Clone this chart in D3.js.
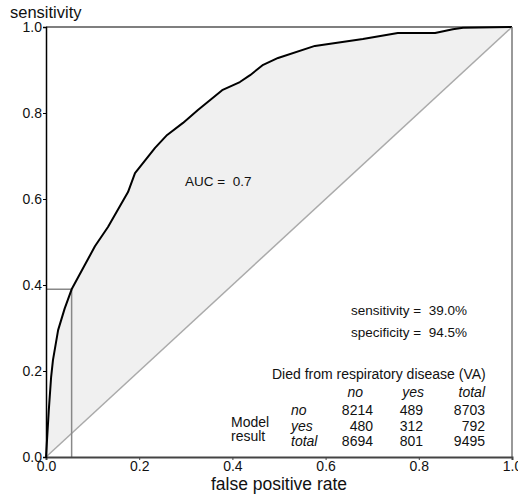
<!DOCTYPE html>
<html>
<head>
<meta charset="utf-8">
<script src="https://cdn.jsdelivr.net/npm/d3@7"></script>
<style>
  body { margin: 0; background: #fff; }
  svg text { font-family: "Liberation Sans", Arial, sans-serif; fill: #111; white-space: pre; }
</style>
</head>
<body>
<svg id="chart" width="518" height="497"></svg>
<script>
// ROC curve points
const fpr = [0, 0.006, 0.011, 0.015, 0.026, 0.040, 0.055, 0.08, 0.105, 0.133, 0.176, 0.191,
  0.234, 0.26, 0.294, 0.326, 0.378, 0.416, 0.438, 0.466, 0.498, 0.577, 0.68, 0.755, 0.835,
  0.873, 0.895, 1];
const sens = [0, 0.109, 0.186, 0.226, 0.295, 0.345, 0.39, 0.44, 0.49, 0.535, 0.616, 0.66,
  0.719, 0.749, 0.777, 0.807, 0.853, 0.872, 0.888, 0.912, 0.928, 0.956, 0.972, 0.986, 0.986,
  0.995, 0.998, 1];
const ticks = [0, 0.2, 0.4, 0.6, 0.8, 1.0];
const cutoff = { fpr: 0.055, sens: 0.39 };
const auc = 0.7;

// 2x2 table
const colHeads = ["no", "yes", "total"];
const rowHeads = ["no", "yes", "total"];
const tableVals = [[8214, 489, 8703], [480, 312, 792], [8694, 801, 9495]];

const svg = d3.select("#chart");
const margin = { left: 46, right: 6, top: 27, bottom: 40 };
const W = 518, H = 497;

const x = d3.scaleLinear().domain([0, 1]).range([margin.left, W - margin.right]);
const y = d3.scaleLinear().domain([0, 1]).range([H - margin.bottom, margin.top]);

const pts = fpr.map((f, i) => [f, sens[i]]);
const line = d3.line().x(d => x(d[0])).y(d => y(d[1]));

// shaded area between curve and diagonal
svg.append("path")
  .datum(pts.concat(pts.slice().reverse().map(d => [d[0], d[0]])))
  .attr("d", line)
  .attr("fill", "#f0f0f0")
  .attr("stroke", "none");

// diagonal
svg.append("line")
  .attr("x1", x(0)).attr("y1", y(0)).attr("x2", x(1)).attr("y2", y(1))
  .attr("stroke", "#aaa").attr("stroke-width", 1.5);

// cutoff lines
svg.append("path")
  .attr("d", `M${x(0)},${y(cutoff.sens)}H${x(cutoff.fpr)}V${y(0)}`)
  .attr("fill", "none").attr("stroke", "#888").attr("stroke-width", 1.5);

// ROC curve
svg.append("path")
  .datum(pts)
  .attr("d", line)
  .attr("fill", "none").attr("stroke", "#000").attr("stroke-width", 2)
  .attr("stroke-linejoin", "round");

// frame: top black, right gray
svg.append("line").attr("x1", x(0)).attr("x2", x(1)).attr("y1", y(1)).attr("y2", y(1))
  .attr("stroke", "#000").attr("stroke-width", 1.2);
svg.append("line").attr("x1", x(1)).attr("x2", x(1)).attr("y1", y(1)).attr("y2", y(0))
  .attr("stroke", "#777").attr("stroke-width", 1.5);

// axes
const xAxis = svg.append("g")
  .attr("transform", `translate(0,${y(0)})`)
  .call(d3.axisBottom(x).tickValues(ticks).tickFormat(d3.format(".1f")).tickSize(3).tickPadding(1));
xAxis.select(".domain").attr("stroke", "#444").attr("stroke-width", 2);
xAxis.selectAll(".tick line").attr("stroke", "#444");
xAxis.selectAll("text").attr("font-size", 14).attr("fill", "#111");

const yAxis = svg.append("g")
  .attr("transform", `translate(${x(0)},0)`)
  .call(d3.axisLeft(y).tickValues(ticks).tickFormat(d3.format(".1f")).tickSize(3).tickPadding(1));
yAxis.select(".domain").attr("stroke", "#000").attr("stroke-width", 1.5);
yAxis.selectAll(".tick line").attr("stroke", "#000");
yAxis.selectAll("text").attr("font-size", 14).attr("fill", "#111");

// axis titles
svg.append("text").attr("x", 10).attr("y", 18).attr("font-size", 16.5).text("sensitivity");
svg.append("text").attr("x", (x(0) + x(1)) / 2).attr("y", 490)
  .attr("text-anchor", "middle").attr("font-size", 17.5).text("false positive rate");

// annotations
svg.append("text").attr("x", 185).attr("y", 186).attr("font-size", 13.5).text(`AUC =  ${auc}`);
svg.append("text").attr("x", 351).attr("y", 315).attr("font-size", 13.5)
  .text(`sensitivity =  ${(cutoff.sens * 100).toFixed(1)}%`);
svg.append("text").attr("x", 351).attr("y", 337).attr("font-size", 13.5)
  .text(`specificity =  ${((1 - cutoff.fpr) * 100).toFixed(1)}%`);

// contingency table
const fs = 14;
svg.append("text").attr("x", 272).attr("y", 379).attr("font-size", fs)
  .text("Died from respiratory disease (VA)");
const headX = [363, 424, 485];
const colX = [373, 423, 485];
const rowY = [415, 431, 446];
colHeads.forEach((c, i) => {
  svg.append("text").attr("x", headX[i]).attr("y", 397).attr("text-anchor", "end")
    .attr("font-size", fs).attr("font-style", "italic").text(c);
});
rowHeads.forEach((r, j) => {
  svg.append("text").attr("x", 291).attr("y", rowY[j]).attr("font-size", fs)
    .attr("font-style", "italic").text(r);
  tableVals[j].forEach((v, i) => {
    svg.append("text").attr("x", colX[i]).attr("y", rowY[j]).attr("text-anchor", "end")
      .attr("font-size", fs).text(v);
  });
});
svg.append("text").attr("x", 231).attr("y", 427).attr("font-size", fs).text("Model");
svg.append("text").attr("x", 231).attr("y", 441).attr("font-size", fs).text("result");
</script>
</body>
</html>
